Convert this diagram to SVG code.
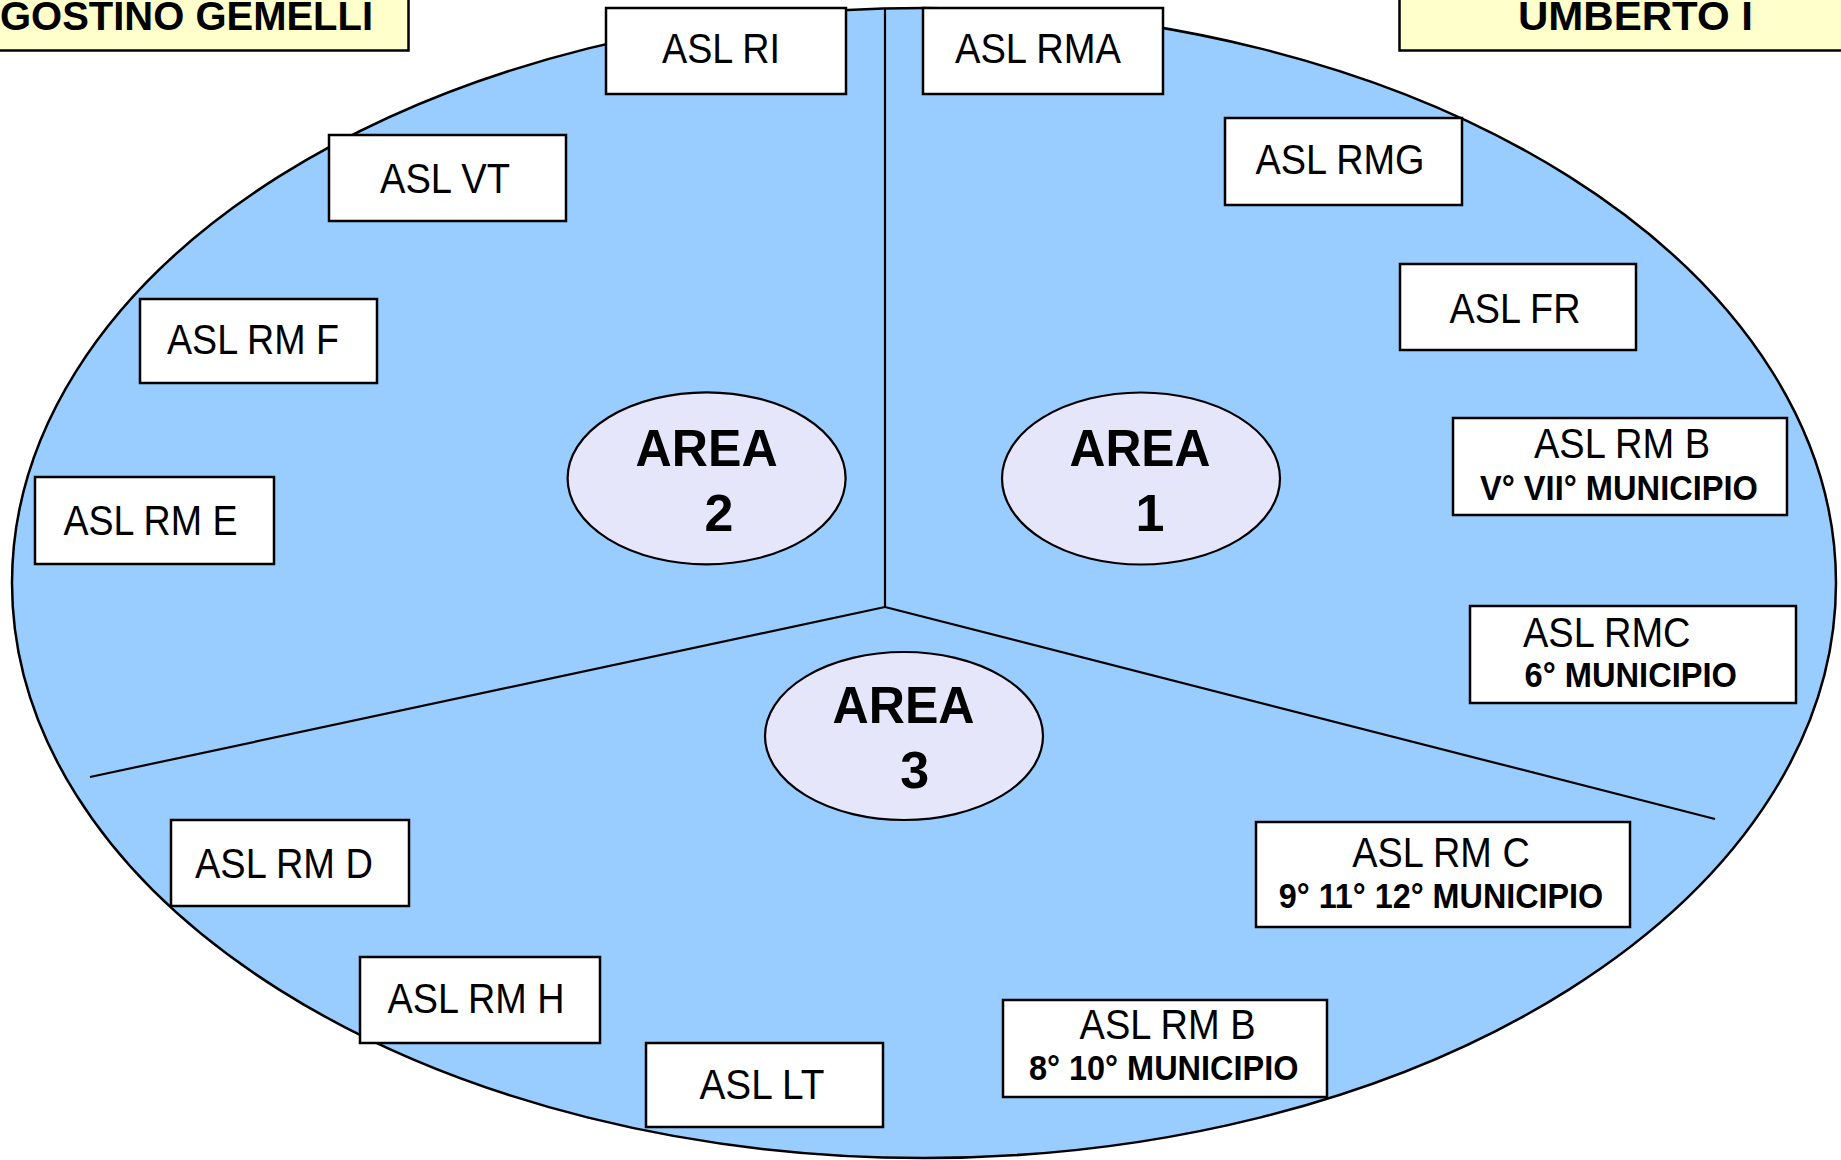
<svg xmlns="http://www.w3.org/2000/svg" width="1841" height="1160" viewBox="0 0 1841 1160">
  <style>
    .region { fill: #99CCFF; stroke: #000; stroke-width: 2.5; }
    .divider { fill: none; stroke: #000; stroke-width: 2.2; }
    .box { fill: #FFFFFF; stroke: #000; stroke-width: 2.5; }
    .title { fill: #FFFFCC; stroke: #000; stroke-width: 2.5; }
    .area { fill: #E6E6FA; stroke: #000; stroke-width: 2.2; }
    .lbl { font-family: "Liberation Sans", Arial, sans-serif; font-size: 42px; fill: #000; }
    .sub { font-family: "Liberation Sans", Arial, sans-serif; font-size: 35px; font-weight: bold; fill: #000; }
    .big { font-family: "Liberation Sans", Arial, sans-serif; font-size: 52px; font-weight: bold; fill: #000; }
    .head { font-family: "Liberation Sans", Arial, sans-serif; font-size: 40px; font-weight: bold; fill: #000; }
    .c { text-anchor: middle; }
  </style>

  <!-- outer region -->
  <ellipse class="region" cx="924" cy="583" rx="912" ry="575"/>

  <!-- dividing lines between the three areas -->
  <g id="connectors">
    <line class="divider" x1="885" y1="8" x2="885" y2="607"/>
    <line class="divider" x1="885" y1="607" x2="90" y2="777"/>
    <line class="divider" x1="885" y1="607" x2="1715" y2="819"/>
  </g>

  <!-- hospital headers -->
  <g id="hdr-gemelli">
    <rect class="title" x="-5" y="-5" width="413.5" height="55.5"/>
    <text class="head" x="0" y="30" textLength="373" lengthAdjust="spacingAndGlyphs">GOSTINO GEMELLI</text>
  </g>
  <g id="hdr-umberto">
    <rect class="title" x="1399.5" y="-5" width="450" height="55.5"/>
    <text class="head" x="1518" y="30" textLength="235" lengthAdjust="spacingAndGlyphs">UMBERTO I</text>
  </g>

  <!-- area badges -->
  <g id="area-2">
    <ellipse class="area" cx="706.6" cy="478.3" rx="139" ry="86"/>
    <text class="big c" x="706.6" y="466" textLength="142" lengthAdjust="spacingAndGlyphs">AREA</text>
    <text class="big c" x="719" y="531">2</text>
  </g>
  <g id="area-1">
    <ellipse class="area" cx="1141" cy="478.5" rx="139" ry="86"/>
    <text class="big c" x="1140" y="466" textLength="141" lengthAdjust="spacingAndGlyphs">AREA</text>
    <text class="big c" x="1150" y="531">1</text>
  </g>
  <g id="area-3">
    <ellipse class="area" cx="904" cy="736" rx="139" ry="84"/>
    <text class="big c" x="903.5" y="723" textLength="142" lengthAdjust="spacingAndGlyphs">AREA</text>
    <text class="big c" x="914.6" y="788">3</text>
  </g>

  <!-- ASL boxes -->
  <g id="asl-ri">
    <rect class="box" x="606" y="8" width="240" height="86"/>
    <text class="lbl c" x="721" y="63" textLength="118" lengthAdjust="spacingAndGlyphs">ASL RI</text>
  </g>
  <g id="asl-rma">
    <rect class="box" x="923" y="8" width="240" height="86"/>
    <text class="lbl c" x="1038" y="63" textLength="166" lengthAdjust="spacingAndGlyphs">ASL RMA</text>
  </g>
  <g id="asl-vt">
    <rect class="box" x="329" y="135" width="237" height="86"/>
    <text class="lbl c" x="445" y="193" textLength="130" lengthAdjust="spacingAndGlyphs">ASL VT</text>
  </g>
  <g id="asl-rmg">
    <rect class="box" x="1225" y="118" width="237" height="87"/>
    <text class="lbl c" x="1340" y="174" textLength="169" lengthAdjust="spacingAndGlyphs">ASL RMG</text>
  </g>
  <g id="asl-fr">
    <rect class="box" x="1400" y="264" width="236" height="86"/>
    <text class="lbl c" x="1515" y="323" textLength="131" lengthAdjust="spacingAndGlyphs">ASL FR</text>
  </g>
  <g id="asl-rm-f">
    <rect class="box" x="140" y="299" width="237" height="84"/>
    <text class="lbl c" x="253" y="354" textLength="172" lengthAdjust="spacingAndGlyphs">ASL RM F</text>
  </g>
  <g id="asl-rm-e">
    <rect class="box" x="35" y="477" width="239" height="87"/>
    <text class="lbl c" x="150.5" y="535" textLength="174" lengthAdjust="spacingAndGlyphs">ASL RM E</text>
  </g>
  <g id="asl-rm-b-5-7">
    <rect class="box" x="1453" y="418" width="334" height="97"/>
    <text class="lbl c" x="1622" y="458" textLength="176" lengthAdjust="spacingAndGlyphs">ASL RM B</text>
    <text class="sub c" x="1619" y="500" textLength="278" lengthAdjust="spacingAndGlyphs">V° VII° MUNICIPIO</text>
  </g>
  <g id="asl-rmc-6">
    <rect class="box" x="1470" y="606" width="326" height="97"/>
    <text class="lbl" x="1523" y="647" textLength="167.5" lengthAdjust="spacingAndGlyphs">ASL RMC</text>
    <text class="sub" x="1524.5" y="687" textLength="212.5" lengthAdjust="spacingAndGlyphs">6° MUNICIPIO</text>
  </g>
  <g id="asl-rm-c-9-11-12">
    <rect class="box" x="1256" y="822" width="374" height="105"/>
    <text class="lbl c" x="1441" y="867" textLength="177.5" lengthAdjust="spacingAndGlyphs">ASL RM C</text>
    <text class="sub c" x="1441" y="908" textLength="324.5" lengthAdjust="spacingAndGlyphs">9° 11° 12° MUNICIPIO</text>
  </g>
  <g id="asl-rm-b-8-10">
    <rect class="box" x="1003" y="1000" width="324" height="97"/>
    <text class="lbl c" x="1167.6" y="1039" textLength="176" lengthAdjust="spacingAndGlyphs">ASL RM B</text>
    <text class="sub c" x="1163.7" y="1080" textLength="269.5" lengthAdjust="spacingAndGlyphs">8° 10° MUNICIPIO</text>
  </g>
  <g id="asl-rm-d">
    <rect class="box" x="171" y="820" width="238" height="86"/>
    <text class="lbl c" x="284" y="878" textLength="178" lengthAdjust="spacingAndGlyphs">ASL RM D</text>
  </g>
  <g id="asl-rm-h">
    <rect class="box" x="360" y="957" width="240" height="86"/>
    <text class="lbl c" x="476" y="1013" textLength="177" lengthAdjust="spacingAndGlyphs">ASL RM H</text>
  </g>
  <g id="asl-lt">
    <rect class="box" x="646" y="1043" width="237" height="84"/>
    <text class="lbl c" x="762" y="1099" textLength="125" lengthAdjust="spacingAndGlyphs">ASL LT</text>
  </g>
</svg>
